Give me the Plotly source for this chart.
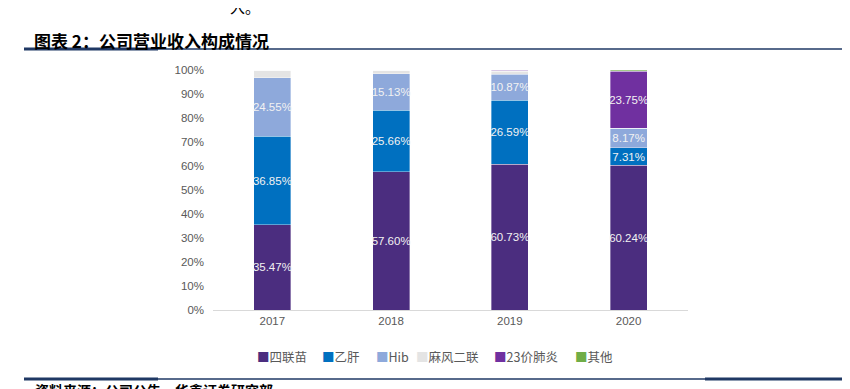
import plotly.graph_objects as go

years = ["2017", "2018", "2019", "2020"]
series_names = ["四联苗", "乙肝", "Hib", "麻风二联", "23价肺炎", "其他"]
siliang = [35.47, 57.60, 60.73, 60.24]
yigan = [36.85, 25.66, 26.59, 7.31]
hib = [24.55, 15.13, 10.87, 8.17]
mafeng = [3.13, 1.61, 1.20, 0.0]
feiyan23 = [0.0, 0.0, 0.61, 23.75]
qita = [0.0, 0.0, 0.0, 0.53]
colors = ["#4B2D7F", "#0070C0", "#8EA9DB", "#E4E4E4", "#7030A0", "#70AD47"]

title_text = "图表 2：公司营业收入构成情况"
source_text = "资料来源：公司公告，华鑫证券研究部"
top_text = "入。"

W, H = 850, 389
OFF = 8  # page body margin offset
# target plot-area edges in screen pixels
SL, SR, ST, SB = 213, 688, 70, 310
L, R, T, B = SL - OFF, SR - OFF, ST - OFF, SB - OFF

def px(x):
    return (x - SL) / (SR - SL)

def py(y):
    return (SB - y) / (SB - ST)

FONT = "Liberation Sans, Noto Sans CJK SC, sans-serif"
CJK = "Noto Sans CJK SC, sans-serif"

fig = go.Figure()
for name, vals, col in zip(series_names,
                           [siliang, yigan, hib, mafeng, feiyan23, qita],
                           colors):
    labels = [f"{v:.2f}%" if v > 5 else "" for v in vals]
    fig.add_trace(go.Bar(
        x=years, y=vals, name=name,
        marker=dict(color=col, line=dict(color="rgba(255,255,255,0.6)", width=0.6)),
        text=labels, textposition="inside", insidetextanchor="middle",
        constraintext="none", cliponaxis=False, textangle=0,
        textfont=dict(color="#F2F2F2", size=11.5, family=FONT),
        hoverinfo="skip", showlegend=False,
    ))

fig.update_layout(
    width=W, height=H,
    barmode="stack", bargap=0.69,
    margin=dict(l=L, r=W - R, t=T, b=H - B, pad=0, autoexpand=False),
    plot_bgcolor="white", paper_bgcolor="white",
    font=dict(family=FONT, color="#595959", size=11),
    showlegend=False,
    xaxis=dict(showline=True, linecolor="#D9D9D9", linewidth=1, ticks="",
               tickfont=dict(size=11.5, color="#595959"), fixedrange=True,
               automargin=False),
    yaxis=dict(range=[0, 100], dtick=10, ticksuffix="%", showgrid=False,
               zeroline=False, showline=False, ticks="", ticklabelstandoff=8,
               tickfont=dict(size=11.5, color="#595959"), fixedrange=True,
               automargin=False),
)

# manual legend (small squares + names)
legend_x = [255, 320, 374, 414, 492, 573]
for name, col, lx in zip(series_names, colors, legend_x):
    fig.add_annotation(x=px(lx), y=py(356), xref="paper", yref="paper",
                       text=f"<span style='color:{col}'>■</span>{name}",
                       showarrow=False, xanchor="left", yanchor="middle",
                       font=dict(size=12.5, color="#595959", family=CJK))

# title, separators, source text
fig.add_annotation(x=px(32), y=py(40), xref="paper", yref="paper", text=f"<b>{title_text}</b>",
                   showarrow=False, xanchor="left", yanchor="middle",
                   font=dict(size=17, color="black", family=CJK))
fig.add_annotation(x=px(228), y=py(6), xref="paper", yref="paper", text=top_text,
                   showarrow=False, xanchor="left", yanchor="middle",
                   font=dict(size=15, color="black", family=CJK))
fig.add_annotation(x=px(33), y=py(390), xref="paper", yref="paper", text=f"<b>{source_text}</b>",
                   showarrow=False, xanchor="left", yanchor="middle",
                   font=dict(size=14, color="black", family=CJK))

navy = "#1F3864"
fig.add_shape(type="line", xref="paper", yref="paper", x0=px(24), x1=px(860), y0=py(49), y1=py(49),
              line=dict(color=navy, width=1.5))
fig.add_shape(type="line", xref="paper", yref="paper", x0=px(24), x1=px(158), y0=py(49), y1=py(49),
              line=dict(color=navy, width=3))
fig.add_shape(type="line", xref="paper", yref="paper", x0=px(24), x1=px(860), y0=py(379), y1=py(379),
              line=dict(color=navy, width=1.5))
fig.add_shape(type="line", xref="paper", yref="paper", x0=px(24), x1=px(158), y0=py(379), y1=py(379),
              line=dict(color=navy, width=3))
fig.add_shape(type="line", xref="paper", yref="paper", x0=px(705), x1=px(860), y0=py(379), y1=py(379),
              line=dict(color=navy, width=3))

fig.write_html("out.html")
